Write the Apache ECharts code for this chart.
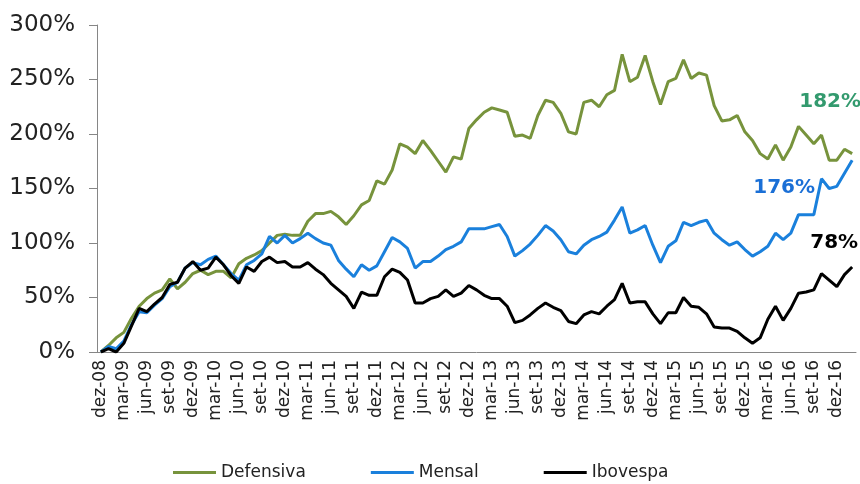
<!DOCTYPE html>
<html>
<head>
<meta charset="utf-8">
<script src="https://cdn.jsdelivr.net/npm/echarts@6/dist/echarts.min.js"></script>
<style>
    html, body { margin: 0; padding: 0; background: #fff; }
    #main { width: 860px; height: 484px; }
</style>
</head>
<body>
<div id="main"></div>
<script>
// meses em português, série mensal de dez-08 até fev-17
var monthNames = ['jan', 'fev', 'mar', 'abr', 'mai', 'jun', 'jul', 'ago', 'set', 'out', 'nov', 'dez'];
var startYear = 2008, startMonth = 11, pointCount = 99;

var defensiva = [
    0, 6, 13, 18, 31, 42, 49, 54, 57, 67, 58, 64,
    72, 75, 71, 74, 74, 68, 81, 86, 89, 93, 100, 107,
    108, 107, 107, 120, 127, 127, 129, 124, 117, 125, 135, 139,
    157, 154, 167, 191, 188, 182, 194, 185, 175, 165, 179, 177,
    205, 213, 220, 224, 222, 220, 198, 199, 196, 217, 231, 229,
    219, 202, 200, 229, 231, 225, 236, 240, 273, 248, 252, 272,
    248, 227, 248, 251, 268, 251, 256, 254, 226, 212, 213, 217,
    202, 194, 182, 177, 190, 176, 188, 207, 199, 191, 199, 176,
    176, 186, 182
];
var mensal = [
    0, 5, 3, 10, 25, 37, 36, 43, 49, 60, 64, 77,
    82, 80, 85, 88, 80, 72, 66, 80, 84, 90, 106, 100,
    107, 100, 104, 109, 104, 100, 98, 84, 76, 69, 80, 75,
    79, 92, 105, 101, 95, 77, 83, 83, 88, 94, 97, 101,
    113, 113, 113, 115, 117, 106, 88, 93, 99, 107, 116, 111,
    103, 92, 90, 98, 103, 106, 110, 121, 133, 109, 112, 116,
    98, 82, 97, 102, 119, 116, 119, 121, 109, 103, 98, 101,
    94, 88, 92, 97, 109, 103, 109, 126, 126, 126, 159, 150,
    152, 164, 176
];
var ibovespa = [
    0, 3, 0, 8, 24, 40, 37, 44, 50, 62, 64, 77,
    83, 75, 77, 87, 80, 70, 63, 78, 74, 83, 87, 82,
    83, 78, 78, 82, 76, 71, 63, 57, 51, 40, 55, 52,
    52, 69, 76, 73, 66, 45, 45, 49, 51, 57, 51, 54,
    61, 57, 52, 49, 49, 42, 27, 29, 34, 40, 45, 41,
    38, 28, 26, 34, 37, 35, 42, 48, 63, 45, 46, 46,
    35, 26, 36, 36, 50, 42, 41, 35, 23, 22, 22, 19,
    13, 8, 13, 30, 42, 29, 40, 54, 55, 57, 72, 66,
    60, 71, 78
];

var seriesNames = ['Defensiva', 'Mensal', 'Ibovespa'];
var lineColors = ['#77933c', '#1a80dc', '#000000'];
var endLabelColors = ['#339a6e', '#1a6fd6', '#000000'];
var endLabelOffsets = [[-22, -52], [-68, 28], [-18, -24]];

var categories = [];
for (var i = 0; i < pointCount; i++) {
    var m = (startMonth + i) % 12;
    var y = startYear + Math.floor((startMonth + i) / 12);
    categories.push(monthNames[m] + '-' + String(y).slice(2));
}

function buildSeries(idx, values) {
    var last = values.length - 1;
    return {
        name: seriesNames[idx],
        type: 'line',
        data: values,
        symbol: 'none',
        lineStyle: { width: 3, color: lineColors[idx] },
        itemStyle: { color: lineColors[idx] },
        markPoint: {
            symbol: 'circle',
            symbolSize: 0,
            data: [{
                coord: [categories[last], values[last]],
                label: {
                    show: true,
                    position: 'inside',
                    offset: endLabelOffsets[idx],
                    formatter: values[last] + '%',
                    color: endLabelColors[idx],
                    fontFamily: 'DejaVu Sans',
                    fontWeight: 'bold',
                    fontSize: 20
                }
            }]
        }
    };
}

var myChart = echarts.init(document.getElementById('main'));

var option = {
    animation: false,
    grid: {
        left: 97,
        right: 4,
        top: 25,
        bottom: 132,
        containLabel: false
    },
    legend: {
        left: 168,
        top: 459,
        icon: 'rect',
        itemWidth: 43,
        itemHeight: 3,
        itemGap: 65,
        textStyle: { fontFamily: 'DejaVu Sans', fontSize: 17, color: '#222' },
        data: seriesNames
    },
    xAxis: {
        type: 'category',
        boundaryGap: true,
        data: categories,
        axisLine: { lineStyle: { color: '#868686', width: 1 } },
        axisTick: { interval: 2, length: 6, lineStyle: { color: '#868686' } },
        axisLabel: {
            interval: 2,
            rotate: 90,
            margin: 8,
            fontFamily: 'DejaVu Sans',
            fontSize: 17,
            color: '#222'
        },
        splitLine: { show: false }
    },
    yAxis: {
        type: 'value',
        min: 0,
        max: 300,
        interval: 50,
        axisLine: { show: true, lineStyle: { color: '#868686', width: 1 } },
        axisTick: { show: true, length: 8, lineStyle: { color: '#868686' } },
        axisLabel: {
            formatter: '{value}%',
            margin: 22,
            fontFamily: 'DejaVu Sans',
            fontSize: 23,
            color: '#222'
        },
        splitLine: { show: false }
    },
    series: [
        buildSeries(0, defensiva),
        buildSeries(1, mensal),
        buildSeries(2, ibovespa)
    ]
};

myChart.setOption(option);
</script>
</body>
</html>
